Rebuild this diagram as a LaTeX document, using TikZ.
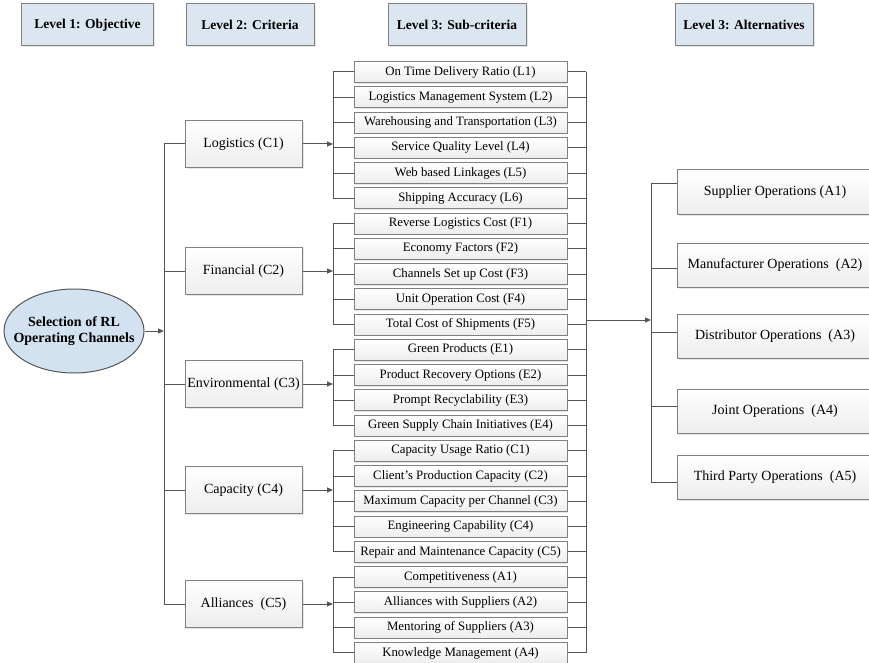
\documentclass[tikz,border=0pt]{standalone}
\usepackage{fontspec}
\setmainfont{Liberation Serif}
\usetikzlibrary{positioning,arrows.meta,shapes.geometric,shadows}
\definecolor{levelblue}{HTML}{DCE6F1}
\definecolor{goalblue}{HTML}{D3E2F0}
\definecolor{linegray}{HTML}{555555}
\definecolor{boxgray}{HTML}{808080}

\begin{document}
\begin{tikzpicture}[x=1pt, y=-1pt,
    level/.style={draw=boxgray, fill=levelblue, line width=1pt,
                  minimum height=42pt, inner sep=0pt,
                  font=\fontsize{13.5}{15}\selectfont\bfseries,
                  drop shadow={shadow xshift=1.5pt, shadow yshift=-1.5pt, opacity=0.2}},
    goal/.style={ellipse, draw=linegray, fill=goalblue, line width=1pt,
                 minimum width=140pt, minimum height=84pt,
                 inner xsep=-11pt, inner ysep=0pt,
                 align=center, font=\fontsize{14}{16}\selectfont\bfseries},
    crit/.style={draw=boxgray, line width=1pt, top color=white, bottom color=gray!14,
                 minimum width=117pt, minimum height=47pt, inner sep=0pt,
                 font=\fontsize{14}{16}\selectfont,
                 drop shadow={shadow xshift=1.5pt, shadow yshift=-1.5pt, opacity=0.2}},
    sub/.style={draw=boxgray, line width=1pt, top color=white, bottom color=gray!14,
                minimum width=213pt, minimum height=21pt, inner sep=0pt,
                font=\fontsize{12.8}{14}\selectfont,
                drop shadow={shadow xshift=1.2pt, shadow yshift=-1.2pt, opacity=0.2}},
    alt/.style={draw=boxgray, line width=1pt, top color=white, bottom color=gray!14,
                minimum width=196pt, minimum height=44pt, inner sep=0pt,
                font=\fontsize{14}{16}\selectfont,
                drop shadow={shadow xshift=1.5pt, shadow yshift=-1.5pt, opacity=0.2}},
    link/.style={draw=linegray, line width=1pt},
    arrow/.style={link, -{Triangle[length=6pt, width=5pt]}},
]
\useasboundingbox (0,0) rectangle (869,663);

% headers
\node[level, minimum width=132pt] (lvl1) at (87.5,25) {Level 1: Objective};
\node[level, minimum width=128pt] (lvl2) at (250,25) {Level 2: Criteria};
\node[level, minimum width=138pt] (lvl3) at (457,25) {Level 3: Sub-criteria};
\node[level, minimum width=138pt] (lvl4) at (744,25) {Level 3: Alternatives};

% objective
\node[goal] (goal) at (74,331) {Selection of RL\\Operating Channels};

% criteria
\node[crit] (logi) at (243.5,144) {Logistics (C1)};
\node[crit] (fin)  at (243.5,271) {Financial (C2)};
\node[crit] (env)  at (243.5,384) {Environmental (C3)};
\node[crit] (cap)  at (243.5,490) {Capacity (C4)};
\node[crit] (ally) at (243.5,604) {Alliances\ \ (C5)};

% sub-criteria
\node[sub] (l1) at (460.5,72) {On Time Delivery Ratio (L1)};
\node[sub, below=3.26pt of l1] (l2) {Logistics Management System (L2)};
\node[sub, below=3.26pt of l2] (l3) {Warehousing and Transportation (L3)};
\node[sub, below=3.26pt of l3] (l4) {Service Quality Level (L4)};
\node[sub, below=3.26pt of l4] (l5) {Web based Linkages (L5)};
\node[sub, below=3.26pt of l5] (l6) {Shipping Accuracy (L6)};
\node[sub, below=3.26pt of l6] (f1) {Reverse Logistics Cost (F1)};
\node[sub, below=3.26pt of f1] (f2) {Economy Factors (F2)};
\node[sub, below=3.26pt of f2] (f3) {Channels Set up Cost (F3)};
\node[sub, below=3.26pt of f3] (f4) {Unit Operation Cost (F4)};
\node[sub, below=3.26pt of f4] (f5) {Total Cost of Shipments (F5)};
\node[sub, below=3.26pt of f5] (e1) {Green Products (E1)};
\node[sub, below=3.26pt of e1] (e2) {Product Recovery Options (E2)};
\node[sub, below=3.26pt of e2] (e3) {Prompt Recyclability (E3)};
\node[sub, below=3.26pt of e3] (e4) {Green Supply Chain Initiatives (E4)};
\node[sub, below=3.26pt of e4] (c1) {Capacity Usage Ratio (C1)};
\node[sub, below=3.26pt of c1] (c2) {Client's Production Capacity (C2)};
\node[sub, below=3.26pt of c2] (c3) {Maximum Capacity per Channel (C3)};
\node[sub, below=3.26pt of c3] (c4) {Engineering Capability (C4)};
\node[sub, below=3.26pt of c4] (c5) {Repair and Maintenance Capacity (C5)};
\node[sub, below=3.26pt of c5] (a1) {Competitiveness (A1)};
\node[sub, below=3.26pt of a1] (a2) {Alliances with Suppliers (A2)};
\node[sub, below=3.26pt of a2] (a3) {Mentoring of Suppliers (A3)};
\node[sub, below=3.26pt of a3] (a4) {Knowledge Management (A4)};

% alternatives
\node[alt] (alt1) at (775,192) {Supplier Operations (A1)};
\node[alt] (alt2) at (775,265) {Manufacturer Operations\ \ (A2)};
\node[alt] (alt3) at (775,336) {Distributor Operations\ \ (A3)};
\node[alt] (alt4) at (775,411) {Joint Operations\ \ (A4)};
\node[alt] (alt5) at (775,477) {Third Party Operations\ \ (A5)};

% bracket positions
\coordinate (critbar) at (164,0);
\coordinate (subbar) at (333,0);
\coordinate (outbar) at (586,0);
\coordinate (outmid) at (586,320);
\coordinate (j1) at (651,183);
\coordinate (j2) at (651,268);
\coordinate (j3) at (651,332);
\coordinate (j4) at (651,406);
\coordinate (j5) at (651,482);

% objective -> criteria
\draw[arrow] (goal.east) -- (goal.east -| critbar);
\draw[link] (logi.west -| critbar) -- (ally.west -| critbar);
\foreach \c in {logi,fin,env,cap,ally}
  \draw[link] (\c.west) -- (\c.west -| critbar);

% criteria -> sub-criteria
\draw[arrow] (logi.east) -- (logi.east -| subbar);
\draw[arrow] (fin.east) -- (fin.east -| subbar);
\draw[arrow] (env.east) -- (env.east -| subbar);
\draw[arrow] (cap.east) -- (cap.east -| subbar);
\draw[arrow] (ally.east) -- (ally.east -| subbar);
\draw[link] (l1.west -| subbar) -- (l6.west -| subbar);
\draw[link] (f1.west -| subbar) -- (f5.west -| subbar);
\draw[link] (e1.west -| subbar) -- (e4.west -| subbar);
\draw[link] (c1.west -| subbar) -- (c5.west -| subbar);
\draw[link] (a1.west -| subbar) -- (a4.west -| subbar);
\foreach \s in {l1,l2,l3,l4,l5,l6,f1,f2,f3,f4,f5,e1,e2,e3,e4,c1,c2,c3,c4,c5,a1,a2,a3,a4}
  \draw[link] (\s.west) -- (\s.west -| subbar);

% sub-criteria -> alternatives
\foreach \s in {l1,l2,l3,l4,l5,l6,f1,f2,f3,f4,f5,e1,e2,e3,e4,c1,c2,c3,c4,c5,a1,a2,a3,a4}
  \draw[link] (\s.east) -- (\s.east -| outbar);
\draw[link] (l1.east -| outbar) -- (a4.east -| outbar);
\draw[arrow] (outmid) -- (outmid -| j1);
\draw[link] (j1) -- (j5);
\foreach \i in {1,...,5}
  \draw[link] (j\i) -- (j\i -| alt\i.west);
\end{tikzpicture}
\end{document}
